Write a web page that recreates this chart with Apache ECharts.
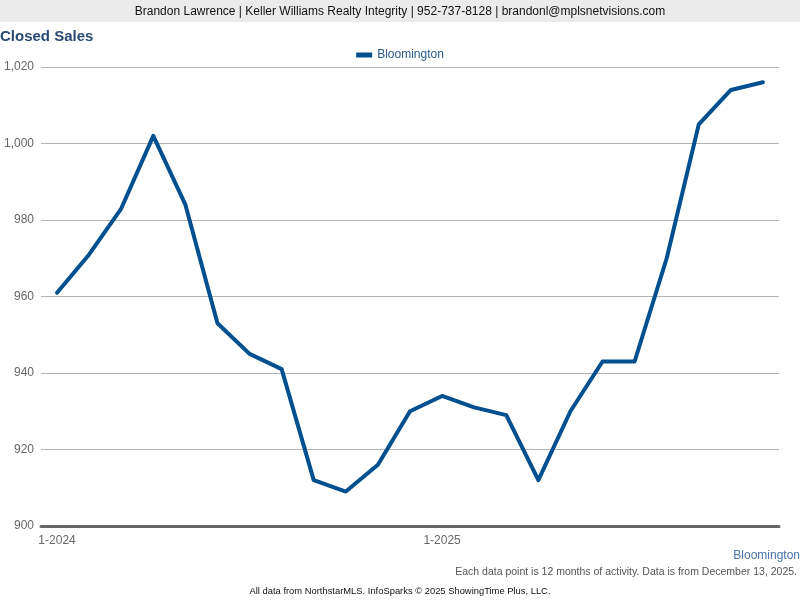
<!DOCTYPE html>
<html><head><meta charset="utf-8">
<script src="https://cdn.jsdelivr.net/npm/echarts@6/dist/echarts.min.js"></script>
<style>html,body{margin:0;padding:0;background:#fff}#c{width:800px;height:600px}</style>
</head><body><div id="c"></div>
<script>
const months = ["1-2024","2-2024","3-2024","4-2024","5-2024","6-2024","7-2024","8-2024","9-2024","10-2024","11-2024","12-2024",
"1-2025","2-2025","3-2025","4-2025","5-2025","6-2025","7-2025","8-2025","9-2025","10-2025","11-2025"];
const bloomington = [961,971,983,1002,984,953,945,941,912,909,916,930,934,931,929,912,930,943,943,970,1005,1014,1016];
const yTicks = {min:900, max:1020, interval:20};

const chart = echarts.init(document.getElementById('c'));
const F = 'Liberation Sans, Arial, sans-serif';
chart.setOption({
  animation:false,
  backgroundColor:'#fff',
  graphic:[{type:'rect',left:0,top:0,shape:{width:800,height:22},style:{fill:'#ebebeb'},z:-1}],
  title:[
    {text:'Brandon Lawrence | Keller Williams Realty Integrity | 952-737-8128 | brandonl@mplsnetvisions.com',left:'center',top:6,padding:0,
     textStyle:{fontFamily:F,fontSize:12,fontWeight:'normal',color:'#111'}},
    {text:'Closed Sales',left:0,top:29,padding:0,textStyle:{fontFamily:F,fontSize:15,fontWeight:'bold',color:'#284a73'}},
    {text:'Bloomington',right:0,top:550,padding:0,textStyle:{fontFamily:F,fontSize:12,fontWeight:'normal',color:'#4a74a8'}},
    {text:'Each data point is 12 months of activity. Data is from December 13, 2025.',right:3,top:567,padding:0,
     textStyle:{fontFamily:F,fontSize:10.5,fontWeight:'normal',color:'#555'}},
    {text:'All data from NorthstarMLS. InfoSparks © 2025 ShowingTime Plus, LLC.',left:'center',top:587,padding:0,
     textStyle:{fontFamily:F,fontSize:9.4,fontWeight:'normal',color:'#111'}}
  ],
  legend:{top:44,left:'center',itemWidth:16,itemHeight:5,icon:'rect',
    textStyle:{fontFamily:F,fontSize:12,color:'#2a5a8a'},data:['Bloomington']},
  grid:{left:41,right:21,top:67,bottom:74,containLabel:false},
  xAxis:{type:'category',data:months,boundaryGap:true,
    axisLine:{lineStyle:{color:'#666',width:3}},
    axisTick:{interval:11,alignWithLabel:true,length:5,lineStyle:{color:'#666',width:2}},
    axisLabel:{interval:11,fontFamily:F,fontSize:12,color:'#666',margin:9}},
  yAxis:{type:'value',min:yTicks.min,max:yTicks.max,interval:yTicks.interval,
    axisLine:{show:false},axisTick:{show:false},
    splitLine:{lineStyle:{color:'#b4b4b4',width:1}},
    axisLabel:{fontFamily:F,fontSize:12,color:'#666',margin:7,
      formatter:v=>v.toLocaleString('en-US')}},
  series:[{name:'Bloomington',type:'line',data:bloomington,showSymbol:false,symbol:'none',
    lineStyle:{color:'#00508f',width:4,cap:'round',join:'round'},itemStyle:{color:'#00508f'}}]
});
</script></body></html>
